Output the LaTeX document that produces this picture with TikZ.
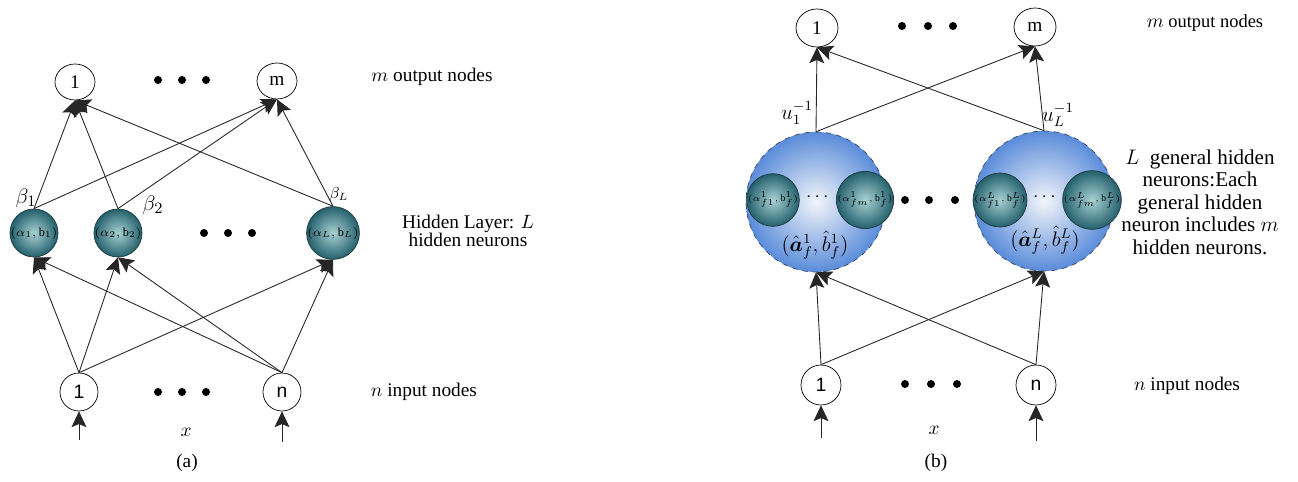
\documentclass[tikz,border=0pt]{standalone}
\usepackage{amsmath,bm}
\usepackage{fontspec}
\setmainfont{Liberation Serif}
\newfontfamily\sansnum{Liberation Sans}
\usetikzlibrary{shapes.geometric,arrows.meta,positioning}
\definecolor{tealin}{RGB}{168,210,212}
\definecolor{tealout}{RGB}{36,96,108}
\definecolor{tealedge}{RGB}{28,58,66}
\definecolor{bluein}{RGB}{242,245,250}
\definecolor{blueout}{RGB}{90,140,218}
\definecolor{dashgray}{RGB}{60,70,90}

\begin{document}
\begin{tikzpicture}[x=0.02cm, y=-0.02cm, every node/.style={font=\fontsize{11}{12}\selectfont},
  outnode/.style={ellipse, draw, minimum width=0.8cm, minimum height=0.72cm, inner sep=0pt},
  innode/.style={circle, draw, minimum size=0.76cm, inner sep=0pt, font=\sansnum\fontsize{11}{12}\selectfont},
  hidnode/.style={circle, draw=tealedge, inner color=tealin, outer color=tealout, minimum size=0.86cm, inner sep=0pt, font=\fontsize{7}{8}\selectfont},
  genhid/.style={circle, draw=dashgray, dashed, inner color=bluein, outer color=blueout, minimum size=2.8cm, inner sep=0pt},
  subhid/.style={circle, draw=tealedge, inner color=tealin, outer color=tealout, minimum size=0.96cm, inner sep=0pt, font=\fontsize{5.5}{6}\selectfont},
  arr/.style={-{Stealth[length=9pt,width=8.5pt,inset=1.8pt]}, black!85, line width=0.5pt}]

\useasboundingbox (0,0) rectangle (1298,481);

\node[outnode] (oa1) at (75,82) {1};
\node[outnode] (oam) at (277,81) {m};
\node[hidnode] (ha1) at (34,233) {$(\alpha_1,\mathrm{b}_1)$};
\node[hidnode] (ha2) at (118,233) {$(\alpha_2,\mathrm{b}_2)$};
\node[hidnode] (haL) at (333,233) {$(\alpha_L,\mathrm{b}_L)$};
\node[innode] (ia1) at (79,392) {1};
\node[innode] (ian) at (282,392) {n};
\coordinate (xa1) at (79,440);
\coordinate (xan) at (282,442);

\fill (158,80) circle[radius=0.08cm] (182,80) circle[radius=0.08cm] (206,80) circle[radius=0.08cm];
\fill (204,233) circle[radius=0.08cm] (228,233) circle[radius=0.08cm] (252,233) circle[radius=0.08cm];
\fill (158,392) circle[radius=0.08cm] (182,392) circle[radius=0.08cm] (206,392) circle[radius=0.08cm];

\node[font=\fontsize{13}{14}\selectfont] (beta1) at (26,198) {$\beta_1$};
\node[font=\fontsize{13}{14}\selectfont] (beta2) at (153,205) {$\beta_2$};
\node[font=\fontsize{9}{10}\selectfont] (betaL) at (339,195) {$\beta_L$};

\draw[arr] (ia1.north) -- (ha1.south);
\draw[arr] (ia1.north) -- (ha2.south);
\draw[arr] (ia1.north) -- (haL.south);
\draw[arr] (ian.north) -- (ha1.south);
\draw[arr] (ian.north) -- (ha2.south);
\draw[arr] (ian.north) -- (haL.south);
\draw[arr] (ha1.north) -- (oa1.south);
\draw[arr] (ha1.north) -- (oam.south);
\draw[arr] (ha2.north) -- (oa1.south);
\draw[arr] (ha2.north) -- (oam.south);
\draw[arr] (haL.north) -- (oa1.south);
\draw[arr] (haL.north) -- (oam.south);
\draw[arr] (xa1) -- (ia1.south);
\draw[arr] (xan) -- (ian.south);

\node (taout) at (432,77) {$m$ output nodes};
\node[align=center, font=\fontsize{11}{10.5}\selectfont] (tahid) at (468,231) {Hidden Layer: $L$\\hidden neurons};
\node (tain) at (424,392) {$n$ input nodes};
\node (tax) at (186,432) {$x$};
\node (tacap) at (187,463) {(a)};

\node[outnode, minimum width=0.84cm, minimum height=0.76cm] (ob1) at (817,28) {1};
\node[outnode, minimum width=0.84cm, minimum height=0.76cm] (obm) at (1035,27) {m};
\node[genhid] (gh1) at (816,202) {};
\node[genhid] (ghL) at (1044,201) {};
\node[subhid] (sh11) at (773,200) {$(\alpha^1_{f1},\mathrm{b}^1_f)$};
\node[subhid] (sh1m) at (865,200) {$(\alpha^1_{fm},\mathrm{b}^1_f)$};
\node[subhid] (shL1) at (1000,200) {$(\alpha^L_{f1},\mathrm{b}^L_f)$};
\node[subhid] (shLm) at (1092,200) {$(\alpha^L_{fm},\mathrm{b}^L_f)$};
\node (cd1) at (819,197) {$\cdots$};
\node (cdL) at (1046,197) {$\cdots$};
\node[font=\fontsize{11.5}{12}\selectfont] (lab1) at (815,245) {$(\hat{\bm a}^1_f,\hat{b}^1_f)$};
\node[font=\fontsize{11.5}{12}\selectfont] (labL) at (1045,240) {$(\hat{\bm a}^L_f,\hat{b}^L_f)$};
\node[innode, minimum size=0.8cm] (ib1) at (821,385) {1};
\node[innode, minimum size=0.8cm] (ibn) at (1036,385) {n};
\coordinate (xb1) at (821,438);
\coordinate (xbn) at (1036,441);

\fill (902,26) circle[radius=0.08cm] (928,26) circle[radius=0.08cm] (953,26) circle[radius=0.08cm];
\fill (905,200) circle[radius=0.08cm] (929,200) circle[radius=0.08cm] (955,200) circle[radius=0.08cm];
\fill (905,384) circle[radius=0.08cm] (931,384) circle[radius=0.08cm] (957,384) circle[radius=0.08cm];

\node[font=\fontsize{12}{13}\selectfont] (u1) at (797,113) {$u_1^{-1}$};
\node[font=\fontsize{12}{13}\selectfont] (uL) at (1058,115) {$u_L^{-1}$};

\draw[arr] (ib1.north) -- (gh1.south);
\draw[arr] (ib1.north) -- (ghL.south);
\draw[arr] (ibn.north) -- (gh1.south);
\draw[arr] (ibn.north) -- (ghL.south);
\draw[arr] (gh1.north) -- (ob1.south);
\draw[arr] (gh1.north) -- (obm.south);
\draw[arr] (ghL.north) -- (ob1.south);
\draw[arr] (ghL.north) -- (obm.south);
\draw[arr] (xb1) -- (ib1.south);
\draw[arr] (xbn) -- (ibn.south);

\node[font=\fontsize{10.5}{12}\selectfont] (tbout) at (1205,23) {$m$ output nodes};
\node[align=center, font=\fontsize{12}{12.8}\selectfont] (tbhid) at (1200,202) {$L$~ general hidden\\neurons:Each\\general hidden\\neuron includes $m$\\hidden neurons.};
\node (tbin) at (1187,386) {$n$ input nodes};
\node (tbx) at (934,430) {$x$};
\node (tbcap) at (936,463) {(b)};
\end{tikzpicture}
\end{document}
